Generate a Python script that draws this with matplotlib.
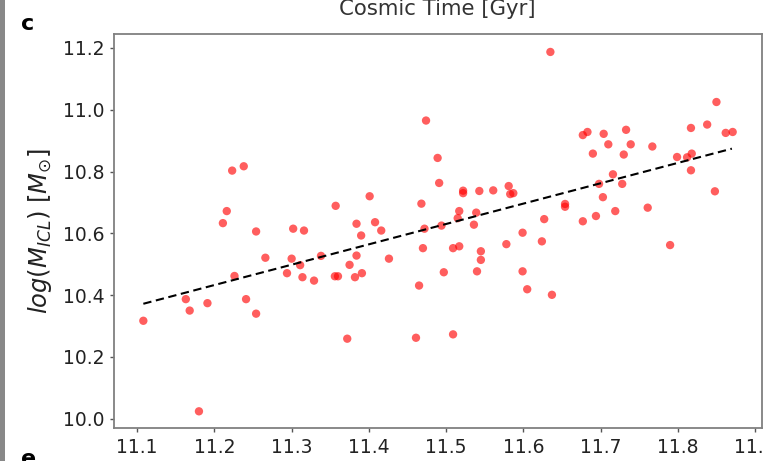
import numpy as np
import matplotlib
matplotlib.use("Agg")
import matplotlib.pyplot as plt
from matplotlib.patches import Rectangle

# log M_BCG-like x values and log M_ICL values
x_vals = [11.108, 11.163, 11.168, 11.180, 11.191, 11.211, 11.216, 11.223, 11.226, 11.238,
          11.241, 11.254, 11.254, 11.266, 11.294, 11.300, 11.302, 11.311, 11.314, 11.316,
          11.329, 11.338, 11.356, 11.357, 11.360, 11.372, 11.375, 11.382, 11.384, 11.384,
          11.390, 11.391, 11.401, 11.408, 11.416, 11.426, 11.461, 11.465, 11.468, 11.470,
          11.472, 11.474, 11.489, 11.491, 11.494, 11.497, 11.509, 11.509, 11.515, 11.517,
          11.517, 11.522, 11.522, 11.536, 11.539, 11.540, 11.543, 11.545, 11.545, 11.561,
          11.578, 11.581, 11.583, 11.587, 11.599, 11.599, 11.605, 11.624, 11.627, 11.635,
          11.637, 11.654, 11.654, 11.677, 11.677, 11.683, 11.690, 11.694, 11.698, 11.703,
          11.704, 11.710, 11.716, 11.719, 11.728, 11.730, 11.733, 11.739, 11.761, 11.767,
          11.790, 11.799, 11.812, 11.817, 11.817, 11.818, 11.838, 11.848, 11.850, 11.862,
          11.871]
y_vals = [10.317, 10.387, 10.350, 10.024, 10.374, 10.633, 10.672, 10.803, 10.462, 10.817,
          10.387, 10.606, 10.340, 10.521, 10.471, 10.518, 10.615, 10.497, 10.458, 10.609,
          10.447, 10.527, 10.461, 10.689, 10.461, 10.259, 10.498, 10.458, 10.631, 10.528,
          10.593, 10.471, 10.720, 10.636, 10.609, 10.518, 10.262, 10.431, 10.696, 10.552,
          10.615, 10.965, 10.844, 10.763, 10.625, 10.474, 10.273, 10.552, 10.649, 10.672,
          10.558, 10.738, 10.730, 10.628, 10.667, 10.477, 10.737, 10.542, 10.514, 10.739,
          10.565, 10.753, 10.727, 10.730, 10.602, 10.477, 10.419, 10.574, 10.646, 11.187,
          10.401, 10.695, 10.686, 10.918, 10.639, 10.928, 10.858, 10.656, 10.760, 10.717,
          10.922, 10.888, 10.791, 10.672, 10.760, 10.855, 10.935, 10.888, 10.683, 10.881,
          10.562, 10.847, 10.846, 10.941, 10.804, 10.858, 10.952, 10.736, 11.025, 10.925,
          10.928]

fit_x = [11.108, 11.870]
fit_y = [10.372, 10.874]

x_ticks = [11.1, 11.2, 11.3, 11.4, 11.5, 11.6, 11.7, 11.8, 11.9]
x_ticklabels = ["11.1", "11.2", "11.3", "11.4", "11.5", "11.6", "11.7", "11.8", "11.9"]
y_ticks = [10.0, 10.2, 10.4, 10.6, 10.8, 11.0, 11.2]
y_ticklabels = ["10.0", "10.2", "10.4", "10.6", "10.8", "11.0", "11.2"]

fig = plt.figure(figsize=(7.64, 4.61), dpi=100)
ax = fig.add_axes([0.1492, 0.0716, 0.8482, 0.8546])

ax.scatter(x_vals, y_vals, s=36, color="red", alpha=0.63, edgecolors="none", zorder=2)
ax.plot(fit_x, fit_y, color="black", linestyle="--", linewidth=1.5, dashes=(4, 2.2), zorder=3)

ax.set_xlim(11.07, 11.909)
ax.set_ylim(9.97, 11.245)
ax.set_xticks(x_ticks)
ax.set_xticklabels(x_ticklabels)
ax.set_yticks(y_ticks)
ax.set_yticklabels(y_ticklabels)
ax.tick_params(axis="both", labelsize=13.5, length=3, width=1, color="#555555",
               labelcolor="#222222", pad=4)
for sp in ax.spines.values():
    sp.set_color("#808080")
    sp.set_linewidth(1.3)

ax.set_ylabel(r"$log(M_{ICL})$ $[M_{\odot}]$", fontsize=17.5, color="#222222", labelpad=6)

fig.text(0.573, 0.967, "Cosmic Time [Gyr]", ha="center", va="baseline",
         fontsize=15.3, color="#333333")
fig.text(0.027, 0.935, "c", ha="left", va="baseline", fontsize=16,
         fontweight="bold", color="black")
fig.text(0.027, -0.008, "e", ha="left", va="baseline", fontsize=16,
         fontweight="bold", color="black")
fig.patches.append(Rectangle((0, 0), 0.0065, 1, transform=fig.transFigure,
                             facecolor="#888888", edgecolor="none"))

fig.savefig("out.png", dpi=100)
